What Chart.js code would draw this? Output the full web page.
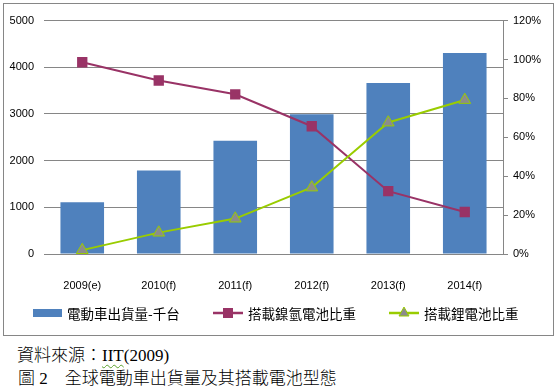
<!DOCTYPE html>
<html>
<head>
<meta charset="utf-8">
<script src="https://cdn.jsdelivr.net/npm/chart.js@4.4.0/dist/chart.umd.min.js"></script>
<style>
  html, body { margin: 0; padding: 0; background: #fff; }
  body { width: 557px; height: 392px; position: relative; overflow: hidden; }
  #frame { position: absolute; left: 3px; top: 3px; width: 549px; height: 331px; border: 1px solid #868686; }
  #c { position: absolute; left: 4px; top: 4px; }
  .cap { position: absolute; left: 17px; font-family: "Liberation Serif", "Noto Sans CJK TC", serif; font-size: 17px; font-weight: 300; line-height: 20px; color: #000; white-space: pre; }
  .sq { text-decoration: underline wavy #5aa02c; text-decoration-thickness: 1px; text-underline-offset: 3px; }
</style>
</head>
<body>
<div id="frame"></div>
<canvas id="c" width="549" height="331"></canvas>
<div class="cap" style="top:346px;">資料來源：<span class="sq">IIT</span>(2009)</div>
<div class="cap" style="top:369px;left:18px;">圖 2　全球電動車出貨量及其搭載電池型態</div>
<script>
const categories = ['2009(e)', '2010(f)', '2011(f)', '2012(f)', '2013(f)', '2014(f)'];
const shipments = [1110, 1790, 2425, 2995, 3665, 4305];
const nimhShare = [98.6, 89.2, 82.1, 65.7, 32.3, 21.6];
const liionShare = [2, 11, 18.2, 34.2, 67.6, 79.2];
const seriesNames = ['電動車出貨量-千台', '搭載鎳氫電池比重', '搭載鋰電池比重'];

const BLUE = '#4F81BD', RED = '#993366', GREEN = '#99CC00', GREY = '#8C8C8C', AXIS = '#868686';

const legendPlugin = {
  id: 'customLegend',
  afterDraw(chart) {
    const ctx = chart.ctx;
    const y = 309;
    const items = [{x: 29, t: 'bar'}, {x: 209, t: 'rect'}, {x: 385, t: 'tri'}];
    ctx.save();
    ctx.font = '13.5px "Noto Sans CJK TC", sans-serif';
    ctx.textBaseline = 'middle';
    ctx.fillStyle = '#000';
    items.forEach((it, i) => {
      const ds = chart.data.datasets[i];
      if (it.t === 'bar') {
        ctx.fillStyle = ds.backgroundColor;
        ctx.fillRect(it.x, y - 4, 29, 8);
      } else {
        ctx.strokeStyle = ds.borderColor;
        ctx.lineWidth = 2.5;
        ctx.beginPath(); ctx.moveTo(it.x, y); ctx.lineTo(it.x + 30, y); ctx.stroke();
        const cx = it.x + 15;
        if (it.t === 'rect') {
          ctx.fillStyle = ds.pointBackgroundColor;
          ctx.fillRect(cx - 5, y - 5, 10, 10);
        } else {
          ctx.fillStyle = ds.pointBackgroundColor;
          ctx.strokeStyle = ds.pointBorderColor;
          ctx.lineWidth = 1;
          ctx.beginPath(); ctx.moveTo(cx, y - 6); ctx.lineTo(cx + 5, y + 3); ctx.lineTo(cx - 5, y + 3); ctx.closePath();
          ctx.fill(); ctx.stroke();
        }
      }
      ctx.fillStyle = '#000';
      ctx.fillText(ds.label, it.x + (it.t === 'bar' ? 34 : 35), y + 0.5);
    });
    ctx.restore();
  }
};

new Chart(document.getElementById('c'), {
  data: {
    labels: categories,
    datasets: [
      { type: 'bar', label: seriesNames[0], data: shipments, backgroundColor: BLUE, yAxisID: 'y', order: 3,
        barPercentage: 0.57, categoryPercentage: 1.0 },
      { type: 'line', label: seriesNames[1], data: nimhShare, borderColor: RED, borderWidth: 2,
        pointStyle: 'rect', pointRadius: 7.3, pointBackgroundColor: RED, pointBorderColor: RED, pointBorderWidth: 0,
        yAxisID: 'y1', order: 2, tension: 0 },
      { type: 'line', label: seriesNames[2], data: liionShare, borderColor: GREEN, borderWidth: 2,
        pointStyle: 'triangle', pointRadius: 6.8, pointBackgroundColor: GREY, pointBorderColor: GREEN, pointBorderWidth: 1,
        yAxisID: 'y1', order: 1, tension: 0 }
    ]
  },
  options: {
    responsive: false,
    animation: false,
    devicePixelRatio: 1,
    layout: { padding: { top: 15, left: 0, right: 0, bottom: 0 } },
    plugins: { legend: { display: false }, tooltip: { enabled: false } },
    scales: {
      x: {
        grid: { display: false },
        border: { display: true, color: AXIS, width: 1 },
        ticks: { color: '#000', font: { family: 'Liberation Sans', size: 11 }, padding: 17, maxRotation: 0 },
        afterFit(s) { s.height = 81; }
      },
      y: {
        position: 'left', min: 0, max: 5000,
        grid: { color: AXIS, lineWidth: 1, drawTicks: false },
        border: { display: false },
        ticks: { stepSize: 1000, color: '#000', font: { family: 'Liberation Sans', size: 11 }, padding: 10,
          callback: v => String(v) },
        afterFit(s) { s.width = 40; }
      },
      y1: {
        position: 'right', min: 0, max: 120,
        grid: { drawOnChartArea: false, color: AXIS, tickLength: 5, lineWidth: 1 },
        border: { display: true, color: AXIS, width: 1 },
        ticks: { stepSize: 20, color: '#000', font: { family: 'Liberation Sans', size: 11 }, padding: 5,
          callback: v => v + '%' },
        afterFit(s) { s.width = 50; }
      }
    }
  },
  plugins: [legendPlugin]
});
</script>
</body>
</html>
